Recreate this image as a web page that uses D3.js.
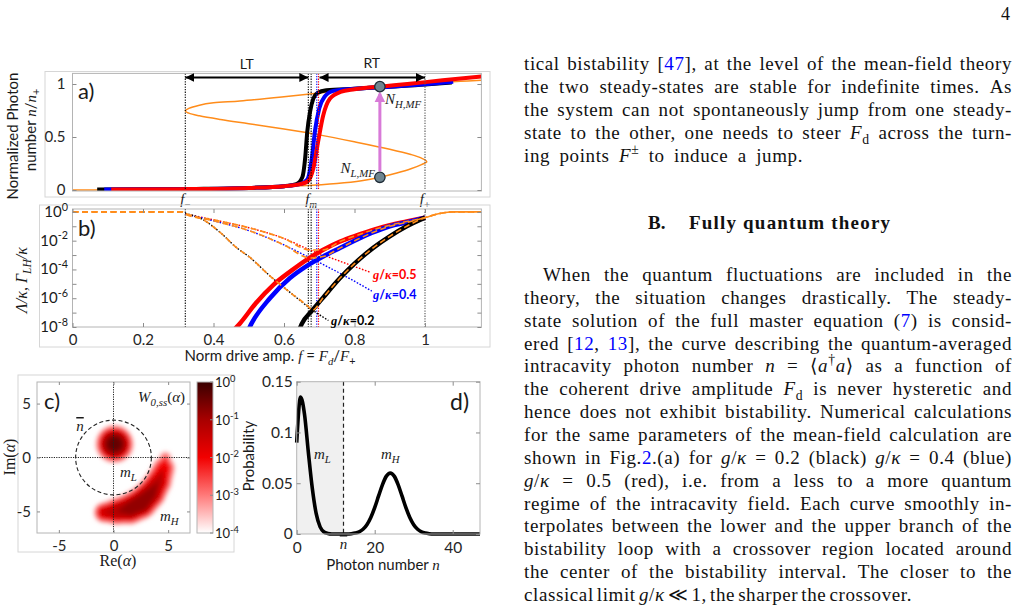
<!DOCTYPE html>
<html>
<head>
<meta charset="utf-8">
<script src="https://cdn.jsdelivr.net/npm/d3@7"></script>
<style>
  body { margin: 0; background: #fff; }
  svg { display: block; }
</style>
</head>
<body>
<script>
// ---- data ----
// shared drive axis f = Fd/F+
var fTicks = [0, 0.2, 0.4, 0.6, 0.8, 1]
var fMinus = 0.32
var fPlus = 1.0
var fmBlack = [0.669, 0.677]
var fmBlue = 0.693
var fmRed = 0.698

// a) mean-field S-curve [f, n/n+] (lower, middle, upper branch)
var mfCurve = [[0, 0], [0.1, 0.002], [0.2, 0.005], [0.32, 0.01], [0.45, 0.018], [0.55, 0.027],
  [0.65, 0.04], [0.75, 0.062], [0.82, 0.088], [0.872, 0.12], [0.92, 0.16], [0.96, 0.2], [0.99, 0.24],
  [1.005, 0.267], [0.99, 0.3], [0.96, 0.335], [0.9, 0.385], [0.8, 0.455], [0.7, 0.52], [0.6, 0.575],
  [0.5, 0.625], [0.42, 0.665], [0.36, 0.7], [0.33, 0.725], [0.32, 0.745], [0.33, 0.77], [0.36, 0.8],
  [0.4, 0.822], [0.475, 0.84], [0.6, 0.88], [0.7, 0.915], [0.8, 0.95], [0.872, 0.975], [1.0, 1.005],
  [1.1, 1.025], [1.16, 1.035]]
// a) quantum curves [f, n/n+]
var nBlack = [[0.07, 0.004], [0.2, 0.006], [0.35, 0.01], [0.5, 0.02], [0.6, 0.036], [0.635, 0.055],
  [0.652, 0.12], [0.66, 0.3], [0.666, 0.55], [0.674, 0.74], [0.683, 0.86], [0.695, 0.915], [0.72, 0.94],
  [0.8, 0.955], [0.9, 0.975], [1.0, 0.995], [1.076, 1.015]]
var nBlue = [[0.09, 0.004], [0.3, 0.008], [0.5, 0.02], [0.6, 0.036], [0.645, 0.055], [0.666, 0.1],
  [0.679, 0.3], [0.688, 0.56], [0.7, 0.77], [0.715, 0.88], [0.74, 0.935], [0.8, 0.955], [0.9, 0.975],
  [1.0, 0.998], [1.08, 1.02]]
var nRed = [[0.11, 0.004], [0.3, 0.008], [0.5, 0.02], [0.6, 0.036], [0.645, 0.055], [0.667, 0.08],
  [0.683, 0.2], [0.697, 0.46], [0.711, 0.7], [0.73, 0.86], [0.76, 0.925], [0.8, 0.95], [0.872, 0.975],
  [0.95, 1.0], [1.05, 1.035], [1.16, 1.07]]
var nMF = [0.12, 0.975] // N_L,MF and N_H,MF
var fMF = 0.872

// b) rates, stored as log10 values [f, log10]
var gammaRed = [[0.32, -0.15], [0.4, -0.55], [0.5, -1.1], [0.6, -1.85], [0.674, -2.65], [0.75, -3.35], [0.845, -4.2]]
var gammaBlue = [[0.32, -0.15], [0.4, -0.62], [0.5, -1.3], [0.6, -2.3], [0.674, -3.2], [0.75, -4.15], [0.849, -5.5]]
var gammaBlack = [[0.32, -0.1], [0.371, -0.55], [0.42, -1.45], [0.466, -2.5], [0.5, -3.1], [0.56, -4.45],
  [0.62, -5.65], [0.674, -6.7], [0.726, -7.55]]
var lamRed = [[0.45, -8.4], [0.475, -7.75], [0.52, -6.35], [0.57, -5.07], [0.62, -4.1], [0.664, -3.33],
  [0.71, -2.65], [0.759, -2.06], [0.81, -1.6], [0.853, -1.25], [0.9, -0.93], [0.948, -0.67], [1.0, -0.4]]
var lamBlue = [[0.495, -8.4], [0.508, -7.75], [0.56, -6.0], [0.617, -4.6], [0.665, -3.75], [0.711, -3.1],
  [0.76, -2.5], [0.806, -1.94], [0.85, -1.45], [0.9, -1.0], [0.95, -0.72], [1.0, -0.4]]
var lamBlack = [[0.64, -8.4], [0.65, -7.8], [0.68, -6.85], [0.711, -5.96], [0.759, -4.6], [0.8, -3.6],
  [0.853, -2.5], [0.9, -1.7], [0.948, -1.0], [1.0, -0.4]]
var orangeHead = [[0, 0], [0.31, 0]]
var orangeTail = [[1.035, -0.15], [1.08, 0], [1.16, 0]]
var decades = [-8, -7, -6, -5, -4, -3, -2, -1, 0]
var decadeLabels = [-8, -6, -4, -2, 0]

// c) Wigner function: blobs as [re, im, half width, log10 peak]
var wBlob = [[0.1, 1.25, 1.8, -0.3]]
var wArc = [[-0.85, -5.1, 1.0, -1.5], [0.3, -5.0, 1.3, -1.1], [1.5, -4.75, 1.5, -0.75], [2.5, -4.25, 1.55, -0.6],
  [3.4, -3.35, 1.45, -0.85], [4.1, -2.25, 1.3, -1.3], [4.6, -1.0, 1.1, -1.9], [4.75, 0.0, 0.6, -2.8]]
var wLevels = [-3.8, -3.4, -3.0, -2.6, -2.2, -1.8, -1.4, -1.0, -0.6, -0.2]
var cTicks = [-5, 0, 5]
var cbExps = [0, -1, -2, -3, -4]
var nBar = 12

// d) photon number distribution P(n), n = 0..47
var probN = [0.09, 0.135, 0.118, 0.08, 0.045, 0.02, 0.007, 0.002, 0.0005, 0, 0, 0, 0, 0,
  0.0003, 0.0009, 0.0021, 0.0047, 0.0092, 0.0163, 0.026, 0.0375, 0.0487, 0.057, 0.06, 0.057, 0.0487,
  0.0375, 0.026, 0.0163, 0.0092, 0.0047, 0.0021, 0.0009, 0.0003, 0, 0, 0, 0, 0, 0, 0, 0, 0, 0, 0, 0, 0]
var dxTicks = [0, 20, 40]
var dyTicks = [0, 0.05, 0.1, 0.15]

// text column: [line, right edge]
var para1 = [
  ['tical bistability [{b|47}], at the level of the mean-field theory', 1012],
  ['the two steady-states are stable for indefinite times. As', 1012],
  ['the system can not spontaneously jump from one steady-', 1012],
  ['state to the other, one needs to steer {i|F}{d|d} across the turn-', 1012],
  ['ing points {i|F}{u|±} to induce a jump.', 803]
]
var para2 = [
  ['When the quantum fluctuations are included in the', 1012],
  ['theory, the situation changes drastically. The steady-', 1012],
  ['state solution of the full master equation ({b|7}) is consid-', 1012],
  ['ered [{b|12}, {b|13}], the curve describing the quantum-averaged', 1012],
  ['intracavity photon number {i|n} = ⟨{i|a}{u|†}{i|a}⟩ as a function of', 1012],
  ['the coherent drive amplitude {i|F}{d|d} is never hysteretic and', 1012],
  ['hence does not exhibit bistability. Numerical calculations', 1012],
  ['for the same parameters of the mean-field calculation are', 1012],
  ['shown in Fig.{b|2}.(a) for {i|g}/{i|κ} = 0.2 (black) {i|g}/{i|κ} = 0.4 (blue)', 1012],
  ['{i|g}/{i|κ} = 0.5 (red), i.e. from a less to a more quantum', 1012],
  ['regime of the intracavity field. Each curve smoothly in-', 1012],
  ['terpolates between the lower and the upper branch of the', 1012],
  ['bistability loop with a crossover region located around', 1012],
  ['the center of the bistability interval. The closer to the', 1012],
  ['classical limit {i|g}/{i|κ} ≪ 1, the sharper the crossover.', 912]
]

// ---- drawing ----
var SANS = 'Lato, "Open Sans", sans-serif'
var SERIF = '"Liberation Serif", "DejaVu Serif", serif'
var INK = '#1a1a1a'
var BOXC = '#b4b4b4'
var ORANGE = '#ff8c1a'

var svg = d3.select('body').append('svg').attr('width', 1021).attr('height', 610)
svg.append('rect').attr('width', 1021).attr('height', 610).attr('fill', '#fff')
var defs = svg.append('defs')

// rich text: {i|..} italic, {b|..} blue, {d|..} sub, {u|..} sup, {o|..} overline; kinds combine
function rich (sel, str, size) {
  var re = /\{(\w+)\|([^}]*)\}/g
  var last = 0
  var m
  var parts = []
  while ((m = re.exec(str)) !== null) {
    if (m.index > last) parts.push(['', str.slice(last, m.index)])
    parts.push([m[1], m[2]])
    last = re.lastIndex
  }
  if (last < str.length) parts.push(['', str.slice(last)])
  var shift = 0
  parts.forEach(function (p) {
    var k = p[0]
    var target = k.indexOf('d') >= 0 ? 0.24 * size : (k.indexOf('u') >= 0 ? -0.42 * size : 0)
    var ts = sel.append('tspan').text(p[1])
    if (target !== shift) { ts.attr('dy', target - shift); shift = target }
    if (k.indexOf('i') >= 0) ts.attr('font-style', 'italic').attr('font-family', SERIF)
    if (k.indexOf('b') >= 0) ts.attr('fill', '#0000ff')
    if (k.indexOf('o') >= 0) ts.style('text-decoration', 'overline')
    if (target !== 0) ts.attr('font-size', (0.72 * size) + 'px')
  })
  return sel
}

function label (g, x, y, str, size, opts) {
  opts = opts || {}
  var t = g.append('text').attr('x', x).attr('y', y)
    .attr('font-family', opts.family || SANS).attr('font-size', size + 'px')
    .attr('fill', opts.fill || INK).attr('text-anchor', opts.anchor || 'start')
  if (opts.weight) t.attr('font-weight', opts.weight)
  if (opts.italic) t.attr('font-style', 'italic')
  if (opts.rotate) t.attr('transform', 'rotate(-90,' + x + ',' + y + ')')
  return rich(t, str, size)
}

function styleAxis (a, size) {
  a.select('.domain').remove()
  a.selectAll('.tick line').attr('stroke', '#8c8c8c')
  a.selectAll('.tick text').attr('font-family', SANS).attr('font-size', size + 'px').attr('fill', '#262626')
  return a
}

function frame (g, x0, x1, y0, y1, col) {
  g.append('rect').attr('x', x0).attr('y', y0).attr('width', x1 - x0).attr('height', y1 - y0)
    .attr('fill', 'none').attr('stroke', col).attr('stroke-width', 1)
}

function clip (id, x0, x1, y0, y1) {
  defs.append('clipPath').attr('id', id).append('rect')
    .attr('x', x0).attr('y', y0).attr('width', x1 - x0).attr('height', y1 - y0)
  return 'url(#' + id + ')'
}

// arrow markers
defs.append('marker').attr('id', 'arrK').attr('viewBox', '0 0 10 10').attr('refX', 10).attr('refY', 5)
  .attr('markerWidth', 4.5).attr('markerHeight', 4.5).attr('orient', 'auto-start-reverse')
  .append('path').attr('d', 'M0,0L10,5L0,10z').attr('fill', '#000')
defs.append('marker').attr('id', 'arrP').attr('viewBox', '0 0 10 10').attr('refX', 8).attr('refY', 5)
  .attr('markerWidth', 3.6).attr('markerHeight', 3.6).attr('orient', 'auto')
  .append('path').attr('d', 'M0,0L10,5L0,10z').attr('fill', '#d87ad8')

// shared x scale for a) and b)
var xF = d3.scaleLinear().domain([0, 1.16]).range([72.5, 481.4])

// ===== panel a =====
var yA = d3.scaleLinear().domain([0, 1.1]).range([190, 73.4])
var ga = svg.append('g')
frame(ga, 45, 490, 71.5, 197, '#d6d6d6')
var lineA = d3.line().x(function (d) { return xF(d[0]) }).y(function (d) { return yA(d[1]) })
var pa = ga.append('g').attr('clip-path', clip('clipA', 72.5, 481.4, 73.4, 191))
pa.append('path').datum(mfCurve).attr('d', lineA.curve(d3.curveCatmullRom.alpha(0.5)))
  .attr('fill', 'none').attr('stroke', ORANGE).attr('stroke-width', 1.5)
lineA.curve(d3.curveMonotoneX)
;[[nBlack, '#000'], [nBlue, '#0000ff'], [nRed, '#ff0000']].forEach(function (c) {
  pa.append('path').datum(c[0]).attr('d', lineA).attr('fill', 'none')
    .attr('stroke', c[1]).attr('stroke-width', 4).attr('stroke-linejoin', 'round')
})
// vertical markers
function vlines (g, y0, y1) {
  var vl = [[fMinus, '#000'], [fmBlack[0], '#000'], [fmBlack[1], '#000'], [fmBlue, '#0000ff'], [fmRed, '#ff0000'], [fPlus, '#555']]
  vl.forEach(function (v) {
    g.append('line').attr('x1', xF(v[0])).attr('x2', xF(v[0])).attr('y1', y0).attr('y2', y1)
      .attr('stroke', v[1]).attr('stroke-width', 1.1).attr('stroke-dasharray', '1.3,1.3')
  })
}
vlines(ga, 73.4, 190)
frame(ga, 72.5, 481.4, 73.4, 191, BOXC)
styleAxis(ga.append('g').attr('transform', 'translate(72.5,0)')
  .call(d3.axisLeft(yA).tickValues([0, 0.5, 1]).tickSize(-4).tickPadding(7).tickFormat(function (d) { return String(d) })), 15)
styleAxis(ga.append('g').attr('transform', 'translate(481.4,0)')
  .call(d3.axisRight(yA).tickValues([0, 0.5, 1]).tickSize(-4).tickFormat('')), 15)

// LT / RT arrows
ga.append('line').attr('x1', xF(fMinus)).attr('x2', xF(fmBlack[0])).attr('y1', 77.5).attr('y2', 77.5)
  .attr('stroke', '#000').attr('stroke-width', 2).attr('marker-start', 'url(#arrK)').attr('marker-end', 'url(#arrK)')
ga.append('line').attr('x1', xF(fmRed) + 1).attr('x2', xF(fPlus)).attr('y1', 77.5).attr('y2', 77.5)
  .attr('stroke', '#000').attr('stroke-width', 2).attr('marker-start', 'url(#arrK)').attr('marker-end', 'url(#arrK)')
label(ga, (xF(fMinus) + xF(fmBlack[0])) / 2, 69, 'LT', 14, { anchor: 'middle' })
label(ga, (xF(fmRed) + xF(fPlus)) / 2, 68, 'RT', 14, { anchor: 'middle' })

// N_L,MF -> N_H,MF
ga.append('line').attr('x1', xF(fMF)).attr('x2', xF(fMF)).attr('y1', yA(nMF[0]) - 6).attr('y2', yA(nMF[1]) + 7)
  .attr('stroke', '#d87ad8').attr('stroke-width', 3).attr('marker-end', 'url(#arrP)')
nMF.forEach(function (v) {
  ga.append('circle').attr('cx', xF(fMF)).attr('cy', yA(v)).attr('r', 5.2)
    .attr('fill', '#6f8590').attr('stroke', '#1e2b36').attr('stroke-width', 1.3)
})
label(ga, xF(fMF) + 5, 104, '{i|N}{id|H,MF}', 15, { family: SERIF })
label(ga, xF(fMF) - 5, 173, '{i|N}{id|L,MF}', 15, { family: SERIF, anchor: 'end' })
label(ga, 78, 99, 'a)', 22)
label(ga, xF(fMinus), 204, '{i|f}{d|−}', 15, { anchor: 'middle', family: SERIF })
label(ga, xF(fmBlack[1]), 204, '{i|f}{id|m}', 15, { anchor: 'middle', family: SERIF })
label(ga, xF(fPlus), 204, '{i|f}{d|+}', 15, { anchor: 'middle', family: SERIF })
label(ga, 18, 136, 'Normalized Photon', 15, { anchor: 'middle', rotate: true })
label(ga, 36, 130, 'number {i|n}/{i|n}{d|+}', 15, { anchor: 'middle', rotate: true })

// ===== panel b =====
var yB = d3.scaleLog().domain([1e-8, Math.pow(10, 0.2)]).range([327, 209])
var gb = svg.append('g')
frame(gb, 39.5, 490, 205, 347, '#d6d6d6')
var lineB = d3.line().x(function (d) { return xF(d[0]) }).y(function (d) { return yB(Math.pow(10, d[1])) })
  .curve(d3.curveMonotoneX)
var pb = gb.append('g').attr('clip-path', clip('clipB', 72.5, 481.4, 209, 327))
vlines(pb, 209, 327)
;[[gammaRed, '#ff0000'], [gammaBlue, '#0000ff'], [gammaBlack, '#000']].forEach(function (c) {
  pb.append('path').datum(c[0]).attr('d', lineB).attr('fill', 'none')
    .attr('stroke', c[1]).attr('stroke-width', 1.4).attr('stroke-dasharray', '1.6,1.6')
})
;[[lamRed, '#ff0000'], [lamBlue, '#0000ff'], [lamBlack, '#000']].forEach(function (c) {
  pb.append('path').datum(c[0]).attr('d', lineB).attr('fill', 'none')
    .attr('stroke', c[1]).attr('stroke-width', 4.5)
})
// orange dashed: follows each escape rate down to f_m, then the rising curve up to f_+
;[[gammaRed, lamRed, fmRed], [gammaBlue, lamBlue, fmBlue], [gammaBlack, lamBlack, fmBlack[1]]].forEach(function (c) {
  var pts = orangeHead
    .concat(c[0].filter(function (d) { return d[0] <= c[2] }))
    .concat(c[1].filter(function (d) { return d[0] >= c[2] }))
    .concat(orangeTail)
  pb.append('path').datum(pts).attr('d', lineB).attr('fill', 'none')
    .attr('stroke', ORANGE).attr('stroke-width', 1.6).attr('stroke-dasharray', '6,3.5')
})
frame(gb, 72.5, 481.4, 209, 327, BOXC)
styleAxis(gb.append('g').attr('transform', 'translate(0,327)')
  .call(d3.axisBottom(xF).tickValues(fTicks).tickSize(-4).tickPadding(7).tickFormat(function (d) { return String(d) })), 15)
styleAxis(gb.append('g').attr('transform', 'translate(0,209)')
  .call(d3.axisTop(xF).tickValues(fTicks).tickSize(-4).tickFormat('')), 15)
var decVals = decades.map(function (e) { return Math.pow(10, e) })
styleAxis(gb.append('g').attr('transform', 'translate(72.5,0)')
  .call(d3.axisLeft(yB).tickValues(decVals).tickSize(-4).tickFormat('')), 14)
styleAxis(gb.append('g').attr('transform', 'translate(481.4,0)')
  .call(d3.axisRight(yB).tickValues(decVals).tickSize(-4).tickFormat('')), 14)
decadeLabels.forEach(function (e) {
  label(gb, 68, yB(Math.pow(10, e)) + 5, '10{u|' + (e < 0 ? '-' + (-e) : e) + '}', 15, { anchor: 'end' })
})
label(gb, 78, 236, 'b)', 22)
label(gb, 373, 279, '{i|g}/{i|κ}=0.5', 12.5, { fill: '#ff0000', weight: 'bold' })
label(gb, 373, 299, '{i|g}/{i|κ}=0.4', 12.5, { fill: '#0000ff', weight: 'bold' })
label(gb, 331, 325, '{i|g}/{i|κ}=0.2', 12.5, { fill: '#000', weight: 'bold' })
label(gb, 270, 361, 'Norm drive amp. {i|f} = {i|F}{id|d}/{i|F}{d|+}', 15, { anchor: 'middle' })
label(gb, 27, 280, 'Λ/κ, Γ{id|LH}/κ', 16, { anchor: 'middle', rotate: true, family: SERIF, italic: true })

// ===== panel c =====
var xC = d3.scaleLinear().domain([-7, 7]).range([37, 190])
var yC = d3.scaleLinear().domain([-7, 7]).range([533, 382])
var wColor = d3.scaleLog().domain([1e-4, 1e-3, 1e-2, 1e-1, 1])
  .range(['#ffffff', '#ff7a7a', '#f20000', '#a80000', '#3a0000'])
var gc = svg.append('g')
frame(gc, 18, 234, 375, 552, '#d6d6d6')
var blur = defs.append('filter').attr('id', 'blurW').attr('x', '-20%').attr('y', '-20%').attr('width', '140%').attr('height', '140%')
blur.append('feGaussianBlur').attr('stdDeviation', 2.2)
var hc = gc.append('g').attr('clip-path', clip('clipC', 37, 190, 382, 533)).append('g').attr('filter', 'url(#blurW)')
var pxU = xC(1) - xC(0)
function levelR (p, L) {
  return p[2] * pxU * Math.pow(Math.max(0, (p[3] - L) / (p[3] + 4)), 0.4)
}
wLevels.forEach(function (L) {
  var col = wColor(Math.pow(10, L + 0.2))
  wBlob.concat(wArc).forEach(function (p) {
    var r = levelR(p, L)
    if (r > 0) hc.append('circle').attr('cx', xC(p[0])).attr('cy', yC(p[1])).attr('r', r).attr('fill', col)
  })
  for (var i = 0; i < wArc.length - 1; i++) {
    var p = wArc[i]
    var q = wArc[i + 1]
    var rp = levelR(p, L)
    var rq = levelR(q, L)
    if (rp <= 0 && rq <= 0) continue
    var x1 = xC(p[0]); var y1 = yC(p[1]); var x2 = xC(q[0]); var y2 = yC(q[1])
    var len = Math.hypot(x2 - x1, y2 - y1)
    var nx = -(y2 - y1) / len; var ny = (x2 - x1) / len
    hc.append('polygon').attr('fill', col).attr('points', [
      [x1 + nx * rp, y1 + ny * rp], [x2 + nx * rq, y2 + ny * rq],
      [x2 - nx * rq, y2 - ny * rq], [x1 - nx * rp, y1 - ny * rp]].join(' '))
  }
})
gc.append('line').attr('x1', xC(0)).attr('x2', xC(0)).attr('y1', 382).attr('y2', 533)
  .attr('stroke', '#222').attr('stroke-width', 1).attr('stroke-dasharray', '1.2,1.2')
gc.append('line').attr('x1', 37).attr('x2', 190).attr('y1', yC(0)).attr('y2', yC(0))
  .attr('stroke', '#222').attr('stroke-width', 1).attr('stroke-dasharray', '1.2,1.2')
gc.append('ellipse').attr('cx', xC(0)).attr('cy', yC(0))
  .attr('rx', xC(Math.sqrt(nBar)) - xC(0)).attr('ry', yC(0) - yC(Math.sqrt(nBar)))
  .attr('fill', 'none').attr('stroke', '#222').attr('stroke-width', 1.1).attr('stroke-dasharray', '4,2.5')
frame(gc, 37, 190, 382, 533, BOXC)
var ctf = function (d) { return String(d) }
styleAxis(gc.append('g').attr('transform', 'translate(0,533)')
  .call(d3.axisBottom(xC).tickValues(cTicks).tickSize(-3).tickPadding(7).tickFormat(ctf)), 15)
styleAxis(gc.append('g').attr('transform', 'translate(0,382)')
  .call(d3.axisTop(xC).tickValues(cTicks).tickSize(-3).tickFormat('')), 15)
styleAxis(gc.append('g').attr('transform', 'translate(37,0)')
  .call(d3.axisLeft(yC).tickValues(cTicks).tickSize(-3).tickPadding(6).tickFormat(ctf)), 15)
styleAxis(gc.append('g').attr('transform', 'translate(190,0)')
  .call(d3.axisRight(yC).tickValues(cTicks).tickSize(-3).tickFormat('')), 15)
label(gc, 44, 409, 'c)', 22)
label(gc, 185, 402, '{i|W}{id|0,ss}({i|α})', 15, { family: SERIF, anchor: 'end' })
label(gc, 80, 431, '{io|n}', 15, { family: SERIF, anchor: 'middle' })
label(gc, 120, 477, '{i|m}{id|L}', 15, { family: SERIF })
label(gc, 160, 521, '{i|m}{id|H}', 15, { family: SERIF })
label(gc, 118, 566, 'Re({i|α})', 16, { family: SERIF, anchor: 'middle' })
label(gc, 15, 457, 'Im({i|α})', 16, { family: SERIF, anchor: 'middle', rotate: true })
// colorbar
var yCb = d3.scaleLog().domain([1e-4, 1]).range([533, 382])
var grad = defs.append('linearGradient').attr('id', 'cbGrad').attr('x1', 0).attr('x2', 0).attr('y1', 1).attr('y2', 0)
cbExps.slice().reverse().forEach(function (e, i) {
  grad.append('stop').attr('offset', (i / 4)).attr('stop-color', wColor(Math.pow(10, e)))
})
gc.append('rect').attr('x', 197).attr('y', 382).attr('width', 16).attr('height', 151)
  .attr('fill', 'url(#cbGrad)').attr('stroke', BOXC)
cbExps.forEach(function (e) {
  gc.append('line').attr('x1', 210).attr('x2', 213).attr('y1', yCb(Math.pow(10, e))).attr('y2', yCb(Math.pow(10, e)))
    .attr('stroke', '#8c8c8c')
  label(gc, 215, yCb(Math.pow(10, e)) + 5, '10{u|' + (e < 0 ? '-' + (-e) : e) + '}', 13)
})

// ===== panel d =====
var xD = d3.scaleLinear().domain([0, 47]).range([296.7, 480])
var yD = d3.scaleLinear().domain([0, 0.15]).range([534, 381.7])
var gd = svg.append('g')
gd.append('rect').attr('x', xD(0)).attr('y', 381.7).attr('width', xD(nBar) - xD(0)).attr('height', 534 - 381.7)
  .attr('fill', '#f0f0f0')
gd.append('line').attr('x1', xD(nBar)).attr('x2', xD(nBar)).attr('y1', 381.7).attr('y2', 534)
  .attr('stroke', '#222').attr('stroke-width', 1.2).attr('stroke-dasharray', '4,3')
gd.append('path').datum(probN)
  .attr('d', d3.line().x(function (d, i) { return xD(i) }).y(function (d) { return yD(d) }).curve(d3.curveMonotoneX))
  .attr('fill', 'none').attr('stroke', '#000').attr('stroke-width', 3.6).attr('stroke-linejoin', 'round')
frame(gd, 296.7, 480, 381.7, 534, BOXC)
styleAxis(gd.append('g').attr('transform', 'translate(0,534)')
  .call(d3.axisBottom(xD).tickValues(dxTicks).tickSize(-4).tickPadding(8).tickFormat(ctf)), 15.5)
styleAxis(gd.append('g').attr('transform', 'translate(0,381.7)')
  .call(d3.axisTop(xD).tickValues(dxTicks).tickSize(-4).tickFormat('')), 15.5)
styleAxis(gd.append('g').attr('transform', 'translate(296.7,0)')
  .call(d3.axisLeft(yD).tickValues(dyTicks).tickSize(-4).tickPadding(4).tickFormat(ctf)), 15.5)
styleAxis(gd.append('g').attr('transform', 'translate(480,0)')
  .call(d3.axisRight(yD).tickValues(dyTicks).tickSize(-4).tickFormat('')), 15.5)
label(gd, 450, 410, 'd)', 23)
label(gd, 314, 459, '{i|m}{id|L}', 15, { family: SERIF })
label(gd, 381, 459, '{i|m}{id|H}', 15, { family: SERIF })
label(gd, xD(nBar), 549, '{io|n}', 15, { family: SERIF, anchor: 'middle' })
label(gd, 383, 570, 'Photon number {i|n}', 15, { anchor: 'middle' })
label(gd, 254, 456, 'Probability', 15, { anchor: 'middle', rotate: true })

// ===== text column =====
var TX0 = 524
var TSIZE = 19
var gt = svg.append('g').attr('fill', '#111')

function textLine (str, x0, x1, y) {
  var words = str.split(/\s+/)
  var nodes = words.map(function (w) {
    var t = gt.append('text').attr('y', y).attr('font-family', SERIF)
      .attr('font-size', TSIZE + 'px').attr('letter-spacing', '0.6px')
    return rich(t, w, TSIZE)
  })
  var widths = nodes.map(function (n) { return n.node().getComputedTextLength() })
  var gap = (x1 - x0 - d3.sum(widths)) / (words.length - 1)
  var x = x0
  nodes.forEach(function (n, i) { n.attr('x', x); x += widths[i] + gap })
}
para1.forEach(function (s, i) { textLine(s[0], TX0, s[1], 70 + i * 23) })
gt.append('text').attr('x', 648).attr('y', 229).attr('font-family', SERIF).attr('font-size', TSIZE + 'px')
  .attr('font-weight', 'bold').text('B.')
gt.append('text').attr('x', 689).attr('y', 229).attr('font-family', SERIF).attr('font-size', TSIZE + 'px')
  .attr('font-weight', 'bold').attr('textLength', 201).attr('lengthAdjust', 'spacing').text('Fully quantum theory')
para2.forEach(function (s, i) { textLine(s[0], i === 0 ? 543 : TX0, s[1], 281 + i * 22.85) })
gt.append('text').attr('x', 1001).attr('y', 20).attr('font-family', SERIF).attr('font-size', '18px').text('4')
</script>
</body>
</html>
